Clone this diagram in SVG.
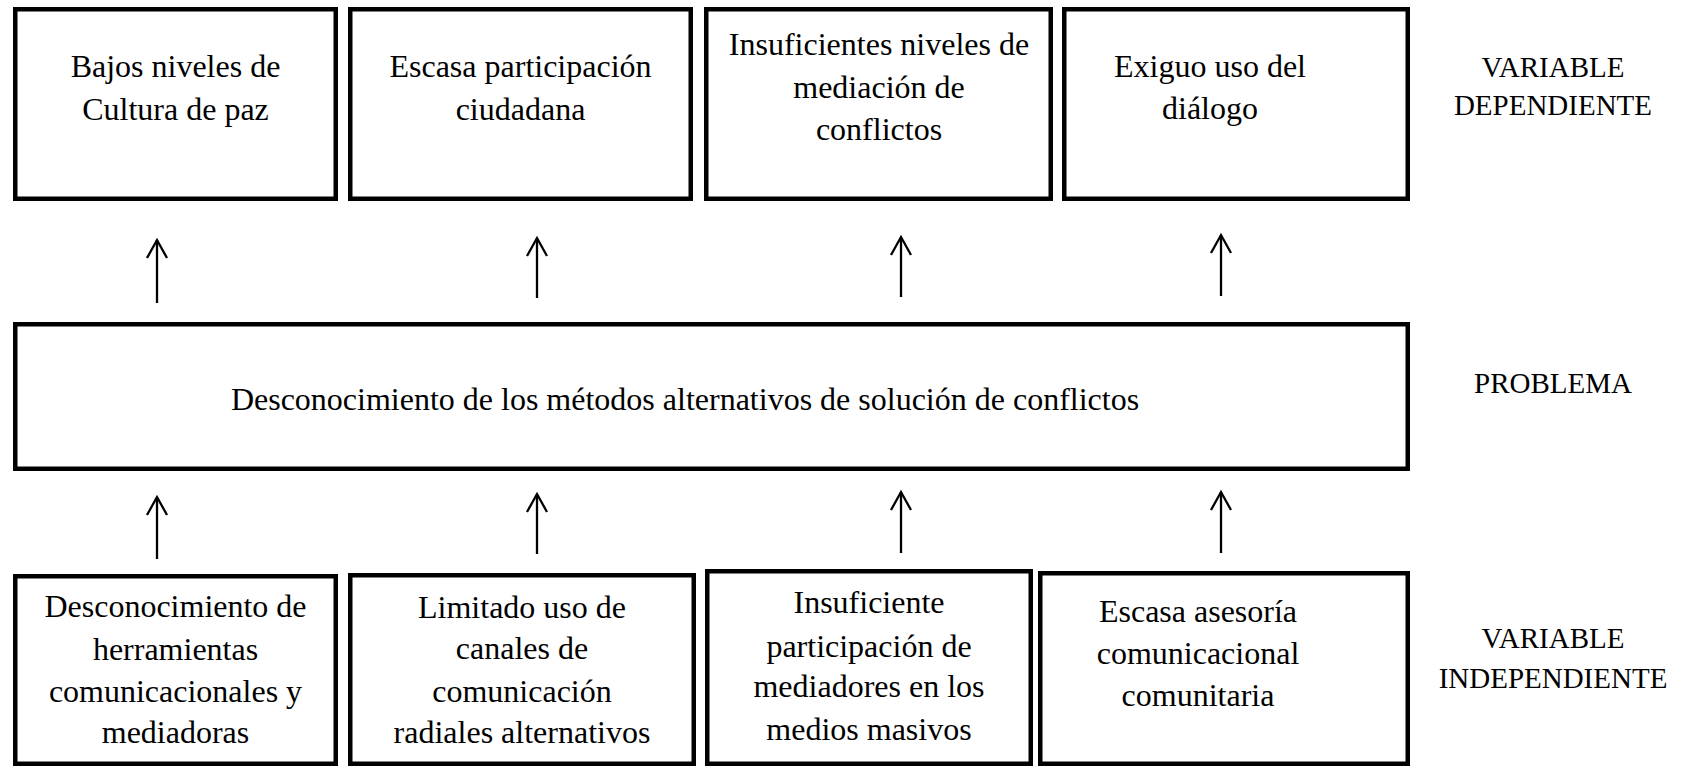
<svg xmlns="http://www.w3.org/2000/svg" width="1681" height="766" viewBox="0 0 1681 766">
<defs>
<style>
.box{fill:#fff;stroke:#000;stroke-width:4.5}
.t{font-family:"Liberation Serif","Times New Roman",serif;font-size:32px;fill:#000;text-anchor:middle}
.lab{font-family:"Liberation Serif","Times New Roman",serif;font-size:29px;fill:#000;text-anchor:middle}
.arr{stroke:#000;stroke-width:2.3;fill:none;marker-end:url(#ah)}
</style>
<marker id="ah" markerUnits="userSpaceOnUse" markerWidth="26" markerHeight="26" refX="21" refY="13" orient="auto">
<path d="M3,3 L21,13 L3,23" fill="none" stroke="#000" stroke-width="2.3"/>
</marker>
</defs>
<rect width="1681" height="766" fill="#fff"/>
<g id="t1"><rect class="box" x="15.25" y="9.25" width="320.5" height="189.5"/><text class="t" x="175.5" y="77">Bajos niveles de</text><text class="t" x="175.5" y="120">Cultura de paz</text></g>
<g id="t2"><rect class="box" x="350.25" y="9.25" width="340.5" height="189.5"/><text class="t" x="520.5" y="77">Escasa participación</text><text class="t" x="520.5" y="120">ciudadana</text></g>
<g id="t3"><rect class="box" x="706.25" y="9.25" width="344.5" height="189.5"/><text class="t" x="879" y="55">Insuficientes niveles de</text><text class="t" x="879" y="98">mediación de</text><text class="t" x="879" y="140">conflictos</text></g>
<g id="t4"><rect class="box" x="1064.25" y="9.25" width="343.5" height="189.5"/><text class="t" x="1210" y="77">Exiguo uso del</text><text class="t" x="1210" y="119">diálogo</text></g>
<g id="problema"><rect class="box" x="15.25" y="324.25" width="1392.5" height="144.5"/><text class="t" x="685" y="410">Desconocimiento de los métodos alternativos de solución de conflictos</text></g>
<g id="b1"><rect class="box" x="15.25" y="576.25" width="320.5" height="187.5"/><text class="t" x="175.5" y="617">Desconocimiento de</text><text class="t" x="175.5" y="660">herramientas</text><text class="t" x="175.5" y="702">comunicacionales y</text><text class="t" x="175.5" y="743">mediadoras</text></g>
<g id="b2"><rect class="box" x="350.25" y="575.25" width="343.5" height="188.5"/><text class="t" x="522" y="618">Limitado uso de</text><text class="t" x="522" y="659">canales de</text><text class="t" x="522" y="702">comunicación</text><text class="t" x="522" y="743">radiales alternativos</text></g>
<g id="b3"><rect class="box" x="707.25" y="571.25" width="323.5" height="192.5"/><text class="t" x="869" y="613">Insuficiente</text><text class="t" x="869" y="657">participación de</text><text class="t" x="869" y="697">mediadores en los</text><text class="t" x="869" y="740">medios masivos</text></g>
<g id="b4"><rect class="box" x="1040.25" y="573.25" width="367.5" height="190.5"/><text class="t" x="1198" y="622">Escasa asesoría</text><text class="t" x="1198" y="664">comunicacional</text><text class="t" x="1198" y="706">comunitaria</text></g>
<g id="labels">
<text class="lab" x="1553" y="77">VARIABLE</text><text class="lab" x="1553" y="115">DEPENDIENTE</text>
<text class="lab" x="1553" y="393">PROBLEMA</text>
<text class="lab" x="1553" y="648">VARIABLE</text><text class="lab" x="1553" y="688">INDEPENDIENTE</text>
</g>
<g id="connectors">
<line class="arr" x1="157" y1="303" x2="157" y2="240"/>
<line class="arr" x1="537" y1="298" x2="537" y2="238"/>
<line class="arr" x1="901" y1="297" x2="901" y2="237"/>
<line class="arr" x1="1221" y1="296" x2="1221" y2="235"/>
<line class="arr" x1="157" y1="559" x2="157" y2="497"/>
<line class="arr" x1="537" y1="554" x2="537" y2="494"/>
<line class="arr" x1="901" y1="553" x2="901" y2="492"/>
<line class="arr" x1="1221" y1="553" x2="1221" y2="492"/>
</g>
</svg>
